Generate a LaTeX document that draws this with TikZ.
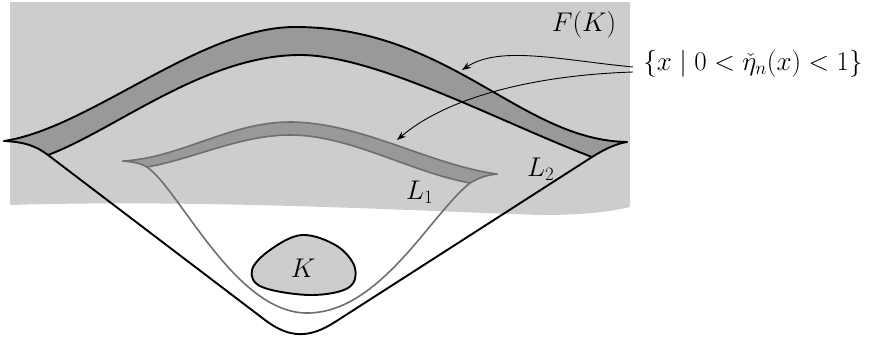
\documentclass[tikz,border=0pt]{standalone}
\usepackage{fix-cm}
\usetikzlibrary{arrows.meta}
\definecolor{bggray}{HTML}{CDCDCD}
\definecolor{bandgray}{HTML}{999999}
\definecolor{linegray}{HTML}{6E6E6E}
\begin{document}
\begin{tikzpicture}[x=1pt,y=-1pt,
  font=\fontsize{27}{32}\selectfont,
  outerline/.style={line width=1.9pt, line join=round, line cap=round},
  innerline/.style={line width=1.6pt, draw=linegray, line join=round, line cap=round},
  pointer/.style={line width=0.9pt, -{Stealth[length=9pt,width=6.5pt]}},
  lbl/.style={inner sep=0pt}]
\useasboundingbox (0,0) rectangle (869,341);

% light grey background F(K)
\fill[bggray] (10,2) -- (630,2) -- (630,207)
  .. controls (605,213) and (575,215) .. (540,215)
  .. controls (420,211) and (200,199) .. (10,205) -- cycle;

% outer dark band
\fill[bandgray] (4,141) .. controls (90,128) and (200,27) .. (295,27)
  .. controls (450,27) and (520,140) .. (627,142)
  .. controls (615,144) and (605,149) .. (592,157)
  .. controls (500,122) and (376,55) .. (300,55)
  .. controls (205,55) and (115,130) .. (48,155)
  .. controls (36,146) and (25,142) .. (4,141) -- cycle;

% inner dark band
\fill[bandgray] (123,161) .. controls (180,158) and (230,122) .. (290,122)
  .. controls (360,122) and (430,165) .. (497,174)
  .. controls (488,175) and (480,177) .. (470,183)
  .. controls (410,172) and (350,135) .. (290,135)
  .. controls (240,135) and (190,160) .. (147,167)
  .. controls (140,163) and (133,162) .. (123,161) -- cycle;

% outer lines (L2)
\draw[outerline] (4,141) .. controls (90,128) and (200,27) .. (295,27)
  .. controls (450,27) and (520,140) .. (627,142);
\draw[outerline] (48,155) .. controls (115,130) and (205,55) .. (300,55)
  .. controls (376,55) and (500,122) .. (592,157);
\draw[outerline] (4,141) .. controls (25,142) and (36,146) .. (48,155)
  -- (265,320) .. controls (290,339) and (310,338) .. (335,322)
  -- (592,157) .. controls (605,149) and (615,144) .. (627,142);

% inner lines (L1)
\draw[innerline] (123,161) .. controls (180,158) and (230,122) .. (290,122)
  .. controls (360,122) and (430,165) .. (497,174);
\draw[innerline] (147,167) .. controls (190,160) and (240,135) .. (290,135)
  .. controls (350,135) and (410,172) .. (470,183);
\draw[innerline] (123,161) .. controls (133,162) and (140,163) .. (147,167)
  .. controls (180,190) and (235,313) .. (307,313)
  .. controls (380,313) and (430,215) .. (470,183)
  .. controls (480,177) and (488,175) .. (497,174);

% K
\draw[outerline, fill=bggray] plot[smooth cycle, tension=0.6] coordinates {(302,235) (337,246) (355,268) (348,288) (310,295) (262,287) (252,270) (270,250)};

% labels
\node[lbl] (K) at (303,268) {$K$};
\node[lbl] (FK) at (584,25) {$F(K)$};
\node[lbl, anchor=base west] (L2) at (527,176) {$L_2$};
\node[lbl, anchor=base west] (L1) at (406,199) {$L_1$};
\node[lbl] (set) at (753,64) {$\{x\mid 0<\check{\eta}_n(x)<1\}$};

% pointers
\coordinate (s1) at (633,67);
\coordinate (s2) at (633,72);
\coordinate (e1) at (462,70);
\coordinate (e2) at (397,140);
\draw[pointer] (s1) .. controls (560,60) and (500,45) .. (e1);
\draw[pointer] (s2) .. controls (540,75) and (450,95) .. (e2);
\end{tikzpicture}
\end{document}
